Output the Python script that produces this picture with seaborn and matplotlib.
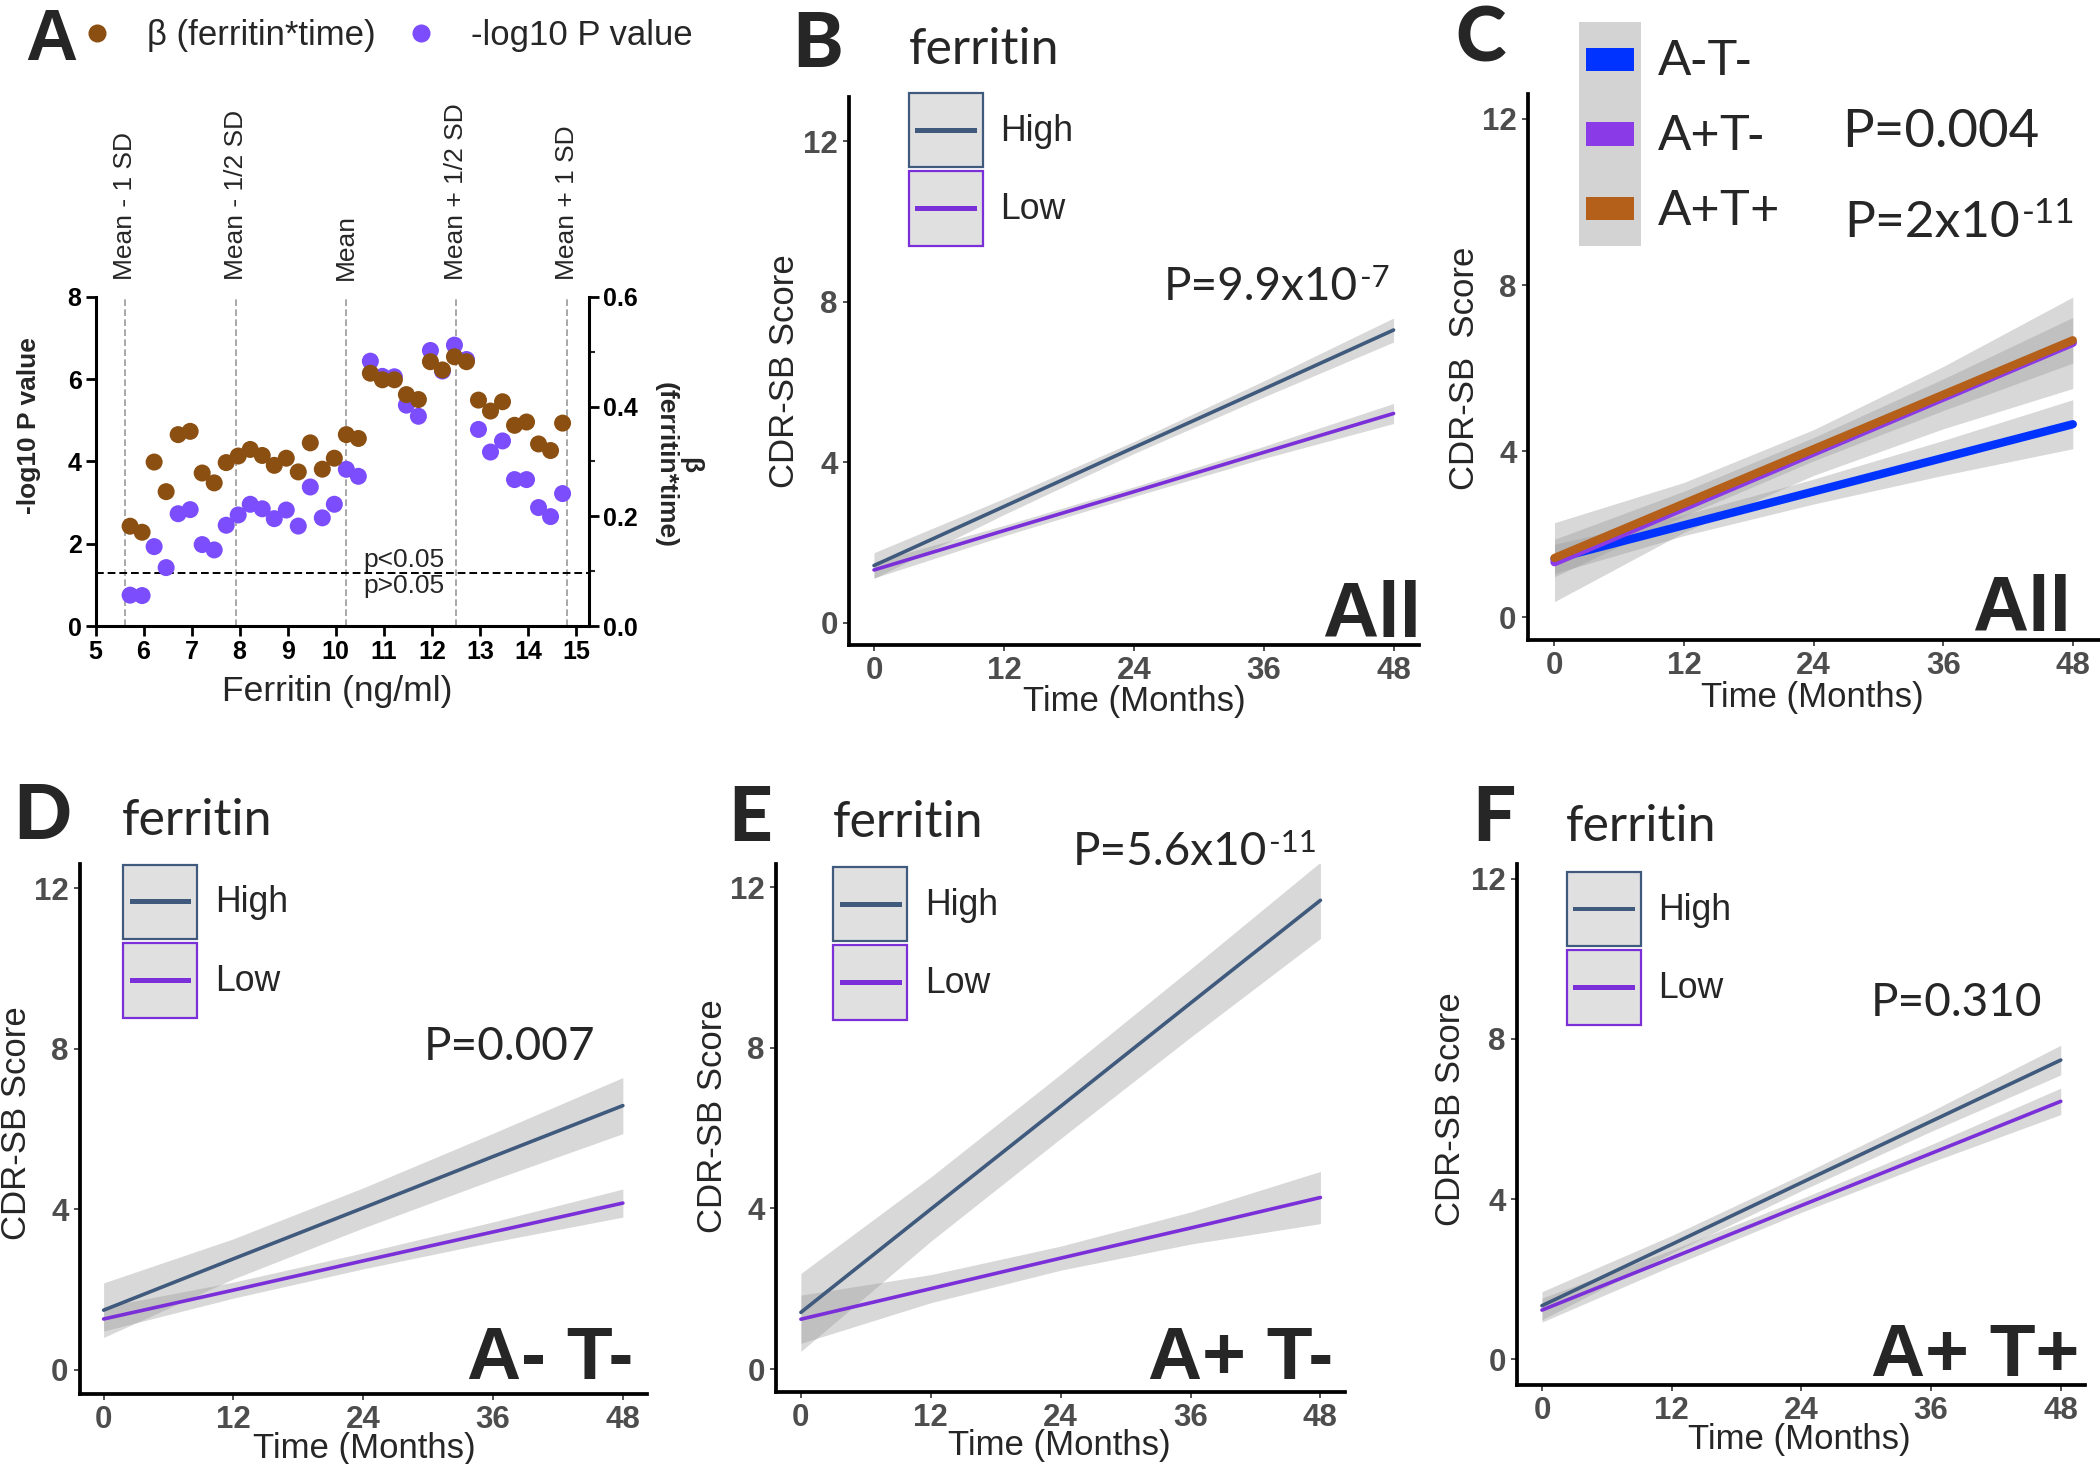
import numpy as np
import pandas as pd
import seaborn as sns
import matplotlib
matplotlib.use("Agg")
import matplotlib.pyplot as plt
from matplotlib.lines import Line2D
from matplotlib.patches import Patch, Rectangle
from matplotlib.legend_handler import HandlerPatch
from matplotlib.text import Annotation
from matplotlib.ticker import MultipleLocator, FormatStrFormatter

# ---- panel A: sliding ferritin cut-off ----
ferritin_cut = [5.72, 5.97, 6.22, 6.47, 6.72, 6.97, 7.22, 7.47, 7.72, 7.97,
                8.22, 8.47, 8.72, 8.97, 9.22, 9.47, 9.72, 9.97, 10.22, 10.47,
                10.72, 10.97, 11.22, 11.47, 11.72, 11.97, 12.22, 12.47, 12.72,
                12.97, 13.22, 13.47, 13.72, 13.97, 14.22, 14.47, 14.72]
beta_interaction = [0.182, 0.171, 0.299, 0.245, 0.349, 0.355, 0.279, 0.261, 0.298, 0.310,
                    0.322, 0.311, 0.293, 0.306, 0.281, 0.334, 0.286, 0.306, 0.349, 0.342,
                    0.461, 0.449, 0.449, 0.422, 0.413, 0.482, 0.467, 0.491, 0.482,
                    0.412, 0.392, 0.409, 0.366, 0.372, 0.332, 0.320, 0.370]
neg_log10_p = [0.75, 0.74, 1.93, 1.42, 2.73, 2.83, 1.98, 1.85, 2.45, 2.70,
               2.96, 2.85, 2.61, 2.82, 2.43, 3.38, 2.63, 2.96, 3.81, 3.64,
               6.44, 6.07, 6.06, 5.37, 5.10, 6.70, 6.20, 6.83, 6.48,
               4.78, 4.23, 4.50, 3.56, 3.56, 2.88, 2.66, 3.22]
sd_marks = [5.62, 7.92, 10.22, 12.51, 14.81]
sd_names = ["Mean - 1 SD", "Mean - 1/2 SD", "Mean", "Mean + 1/2 SD", "Mean + 1 SD"]
p_cutoff = 1.3

# ---- panels B-F: fitted CDR-SB lines (estimate, lower CI, upper CI) ----
months = [0, 12, 24, 36, 48]

b_high = [1.43, 2.90, 4.37, 5.83, 7.30]
b_high_lo = [1.11, 2.70, 4.22, 5.63, 7.00]
b_high_hi = [1.75, 3.10, 4.52, 6.03, 7.60]
b_low = [1.32, 2.30, 3.27, 4.25, 5.22]
b_low_lo = [1.12, 2.17, 3.15, 4.10, 4.97]
b_low_hi = [1.52, 2.43, 3.39, 4.40, 5.47]

c_aneg_tneg = [1.41, 2.22, 3.03, 3.84, 4.65]
c_aneg_tneg_lo = [1.06, 1.97, 2.73, 3.42, 4.06]
c_aneg_tneg_hi = [1.76, 2.47, 3.33, 4.26, 5.24]
c_apos_tneg = [1.33, 2.65, 3.97, 5.29, 6.61]
c_apos_tneg_lo = [0.38, 2.05, 3.42, 4.54, 5.51]
c_apos_tneg_hi = [2.28, 3.25, 4.52, 6.04, 7.71]
c_apos_tpos = [1.43, 2.74, 4.05, 5.36, 6.67]
c_apos_tpos_lo = [0.98, 2.44, 3.77, 4.98, 6.12]
c_apos_tpos_hi = [1.88, 3.04, 4.33, 5.74, 7.22]

d_high = [1.48, 2.76, 4.03, 5.31, 6.58]
d_high_lo = [0.80, 2.26, 3.53, 4.73, 5.88]
d_high_hi = [2.16, 3.26, 4.53, 5.89, 7.28]
d_low = [1.26, 1.98, 2.71, 3.43, 4.15]
d_low_lo = [0.96, 1.78, 2.51, 3.18, 3.80]
d_low_hi = [1.56, 2.18, 2.91, 3.68, 4.50]

e_high = [1.41, 3.98, 6.54, 9.11, 11.67]
e_high_lo = [0.44, 3.18, 5.74, 8.26, 10.72]
e_high_hi = [2.38, 4.78, 7.34, 9.96, 12.62]
e_low = [1.24, 2.00, 2.76, 3.51, 4.27]
e_low_lo = [0.64, 1.65, 2.46, 3.11, 3.62]
e_low_hi = [1.84, 2.35, 3.06, 3.91, 4.92]

f_high = [1.34, 2.87, 4.41, 5.94, 7.47]
f_high_lo = [0.99, 2.65, 4.21, 5.69, 7.10]
f_high_hi = [1.69, 3.09, 4.61, 6.19, 7.84]
f_low = [1.23, 2.53, 3.84, 5.14, 6.44]
f_low_lo = [0.93, 2.33, 3.67, 4.92, 6.11]
f_low_hi = [1.53, 2.73, 4.01, 5.36, 6.77]

# colours
BROWN = "#8b4f12"
VIOLET = "#7b4dfc"
HIGH_C = "#3f5a7c"
LOW_C = "#7a2fd8"
ferritin_pal = {"High": HIGH_C, "Low": LOW_C}
at_pal = {"A-T-": "#0033ff", "A+T-": "#8a3ae6", "A+T+": "#b45f1a"}
BAND = "#999999"

sns.set_style("ticks")
plt.rcParams["font.family"] = ["Liberation Sans", "DejaVu Sans"]

LATO = ["Lato", "DejaVu Sans"]
NARROW = ["Liberation Sans Narrow", "Liberation Sans", "DejaVu Sans"]

W, H = 2100, 1464
fig = plt.figure(figsize=(21, 14.64), dpi=100)


def box(left, right, top, bottom):
    return [left / W, 1 - bottom / H, (right - left) / W, (bottom - top) / H]


def at(x, y):
    return x / W, 1 - y / H


def bold_ticks(ax):
    for t in ax.get_xticklabels() + ax.get_yticklabels():
        t.set_fontweight("bold")


def key_line(legend, orig_handle, xdescent, ydescent, width, height, fontsize):
    lh = 0.065 * height
    return Rectangle((-xdescent + 0.09 * width, -ydescent + (height - lh) / 2), 0.83 * width, lh)


def key_bar(legend, orig_handle, xdescent, ydescent, width, height, fontsize):
    bh = 0.31 * height
    return Rectangle((-xdescent + 0.115 * width, -ydescent + (height - bh) / 2), 0.775 * width, bh)


def label(x, y, s, size, family=LATO, weight="normal", ha="left"):
    return fig.text(*at(x, y), s, fontsize=size, family=family, fontweight=weight,
                    ha=ha, va="baseline")


def p_label(x, y, main, sup, size):
    t = label(x, y, main, size)
    if sup:
        fig.add_artist(Annotation(sup, xy=(1, 0.5), xycoords=t, xytext=(1.5, 0),
                                  textcoords="offset points", fontsize=size * 0.68,
                                  family=LATO, ha="left", va="baseline"))


# ================= panel A =================
axA = fig.add_axes(box(95.5, 589, 297, 626))
for xm in sd_marks:
    axA.axvline(xm, color="#9a9a9a", lw=1.2, ls=(0, (4, 2)), zorder=1)
axA.axhline(p_cutoff, color="black", lw=1.4, ls=(0, (4, 2)), zorder=1)
sns.scatterplot(x=ferritin_cut, y=neg_log10_p, ax=axA, color=VIOLET, s=150,
                edgecolor="none", legend=False, zorder=3)
axA.set_xlim(5, 15.27)
axA.set_ylim(0, 8)
axA.set_xticks(range(5, 16))
axA.set_yticks([0, 2, 4, 6, 8])
axA.text(10.57, p_cutoff + 0.02, "p<0.05", fontsize=19, va="bottom", ha="left")
axA.text(10.57, p_cutoff - 0.04, "p>0.05", fontsize=19, va="top", ha="left")
for xm, name in zip(sd_marks, sd_names):
    axA.annotate(name, xy=(xm, 1), xycoords=("data", "axes fraction"),
                 xytext=(0, 17), textcoords="offset pixels", rotation=90,
                 ha="center", va="bottom", fontsize=19)

axA2 = axA.twinx()
sns.scatterplot(x=ferritin_cut, y=beta_interaction, ax=axA2, color=BROWN, s=150,
                edgecolor="none", legend=False, zorder=3)
axA2.set_ylim(0, 0.6)
axA2.set_yticks([0, 0.2, 0.4, 0.6])
axA2.yaxis.set_minor_locator(MultipleLocator(0.1))
axA2.yaxis.set_major_formatter(FormatStrFormatter("%.1f"))

axA.spines["top"].set_visible(False)
axA.spines["right"].set_visible(False)
for s in ["top", "left", "bottom"]:
    axA2.spines[s].set_visible(False)
for a in (axA, axA2):
    for s in a.spines.values():
        s.set_linewidth(2.2)
        s.set_color("black")
    a.tick_params(direction="out", length=7, width=2, labelsize=18, colors="black", pad=3)
axA2.tick_params(which="minor", length=4, width=1.5)
bold_ticks(axA)
bold_ticks(axA2)

axA.set_xlabel("Ferritin (ng/ml)", fontsize=25.5)
axA.set_ylabel("-log10 P value", fontsize=19, fontweight="bold")
axA2.set_ylabel("β\n(ferritin*time)", fontsize=19, fontweight="bold", rotation=270,
                linespacing=1.0)
axA.xaxis.set_label_coords(*at(337, 691), transform=fig.transFigure)
axA.yaxis.set_label_coords(*at(29.5, 426), transform=fig.transFigure)
axA2.yaxis.set_label_coords(*at(678, 465), transform=fig.transFigure)
for lab in (axA.xaxis.label, axA.yaxis.label, axA2.yaxis.label):
    lab.set_va("center")
    lab.set_ha("center")

dot_handles = [Line2D([], [], marker="o", ls="none", color=BROWN, markersize=13, markeredgewidth=0),
               Line2D([], [], marker="o", ls="none", color=VIOLET, markersize=13, markeredgewidth=0)]
fig.legend(dot_handles, ["β (ferritin*time)", "-log10 P value"], loc="center left",
           bbox_to_anchor=at(79.6, 36), ncol=2, frameon=False, fontsize=25,
           handlelength=1.0, handletextpad=0.94, columnspacing=0.82,
           borderpad=0, borderaxespad=0)


# ================= panels B-F =================
def cdr_panel(rect, xlim, ylim, groups, palette, lw, ylabel, ylab_xy, xlab_xy):
    ax = fig.add_axes(rect)
    for est, lo, hi in groups.values():
        ax.fill_between(months, lo, hi, color=BAND, alpha=0.38, lw=0, zorder=1)
    names = list(groups)
    df = pd.DataFrame({
        "month": months * len(names),
        "score": [v for n in names for v in groups[n][0]],
        "group": [n for n in names for _ in months],
    })
    sns.lineplot(data=df, x="month", y="score", hue="group", hue_order=names,
                 palette=palette, lw=lw, legend=False, errorbar=None, ax=ax, zorder=3)
    ax.set_xlim(*xlim)
    ax.set_ylim(*ylim)
    ax.set_xticks([0, 12, 24, 36, 48])
    ax.set_yticks([0, 4, 8, 12])
    ax.spines["top"].set_visible(False)
    ax.spines["right"].set_visible(False)
    for s in ("left", "bottom"):
        ax.spines[s].set_linewidth(2.7)
        ax.spines[s].set_color("black")
    ax.tick_params(direction="out", length=4, width=1.2, color="#333333",
                   labelsize=22.5, labelcolor="#4d4d4d", pad=4)
    bold_ticks(ax)
    ax.set_xlabel("Time (Months)", fontsize=25)
    ax.set_ylabel(ylabel, fontsize=25)
    ax.xaxis.set_label_coords(*at(*xlab_xy), transform=fig.transFigure)
    ax.yaxis.set_label_coords(*at(*ylab_xy), transform=fig.transFigure)
    for lab in (ax.xaxis.label, ax.yaxis.label):
        lab.set_va("center")
        lab.set_ha("center")
    return ax


def ferritin_legend(x, y):
    handles, hmap = [], {}
    for name in ["High", "Low"]:
        frame = Patch(facecolor="#e0e0e0", edgecolor=ferritin_pal[name], lw=1.6)
        stroke = Patch(facecolor=ferritin_pal[name], edgecolor="none")
        hmap[stroke] = HandlerPatch(patch_func=key_line)
        handles.append((frame, stroke))
    fig.legend(handles, ["High", "Low"], loc="upper left", bbox_to_anchor=at(x, y),
               frameon=False, fontsize=25.7, handlelength=2.087, handleheight=2.834,
               labelspacing=0.11, handletextpad=0.49, borderpad=0, borderaxespad=0,
               handler_map=hmap)


# B
cdr_panel(box(849, 1419, 96.5, 645), (-2.31, 50.35), (-0.55, 13.12),
          {"High": (b_high, b_high_lo, b_high_hi), "Low": (b_low, b_low_lo, b_low_hi)},
          ferritin_pal, 2.6, "CDR-SB Score", (784, 371), (1134, 701))
ferritin_legend(908.5, 93)
label(908.5, 64, "ferritin", 36)
p_label(1163.7, 300, "P=9.9x10", "-7", 33)
label(1421, 637, "All", 56, NARROW, "bold", "right")
label(792, 67, "B", 55, LATO, "black")

# C
cdr_panel(box(1527.5, 2098.7, 94.3, 640.3), (-2.5, 50.4), (-0.55, 12.59),
          {"A-T-": (c_aneg_tneg, c_aneg_tneg_lo, c_aneg_tneg_hi),
           "A+T-": (c_apos_tneg, c_apos_tneg_lo, c_apos_tneg_hi),
           "A+T+": (c_apos_tpos, c_apos_tpos_lo, c_apos_tpos_hi)},
          at_pal, 6, "CDR-SB  Score", (1465, 368), (1812.5, 697))
at_handles, at_map = [], {}
for name in at_pal:
    back = Patch(facecolor="#d3d3d3", edgecolor="none")
    bar = Patch(facecolor=at_pal[name], edgecolor="none")
    at_map[bar] = HandlerPatch(patch_func=key_bar)
    at_handles.append((back, bar))
fig.legend(at_handles, list(at_pal), loc="upper left", bbox_to_anchor=at(1579, 22),
           frameon=False, fontsize=36, handlelength=1.24, handleheight=1.92,
           labelspacing=0, handletextpad=0.34, borderpad=0, borderaxespad=0,
           handler_map=at_map)
p_label(1842, 147, "P=0.004", None, 38)
p_label(1844, 237, "P=2x10", "-11", 37)
label(2071, 631, "All", 56, NARROW, "bold", "right")
label(1455, 62, "C", 55, LATO, "black")

# D
cdr_panel(box(79.5, 647.3, 863.75, 1394), (-2.23, 50.26), (-0.61, 12.61),
          {"High": (d_high, d_high_lo, d_high_hi), "Low": (d_low, d_low_lo, d_low_hi)},
          ferritin_pal, 2.6, "CDR-SB Score", (17, 1122.7), (364, 1448.6))
ferritin_legend(122.8, 864.6)
label(121.4, 834.7, "ferritin", 36)
p_label(424, 1060, "P=0.007", None, 33)
label(633, 1379, "A- T-", 54, NARROW, "bold", "right")
label(13, 839, "D", 55, LATO, "black")

# E
cdr_panel(box(775.9, 1345, 863.75, 1391.9), (-2.31, 50.27), (-0.57, 12.58),
          {"High": (e_high, e_high_lo, e_high_hi), "Low": (e_low, e_low_lo, e_low_hi)},
          ferritin_pal, 2.6, "CDR-SB Score", (712, 1116), (1059, 1446))
ferritin_legend(833, 866.9)
label(833, 837, "ferritin", 36)
p_label(1072.8, 864.6, "P=5.6x10", "-11", 33)
label(1333, 1379, "A+ T-", 54, NARROW, "bold", "right")
label(728, 841, "E", 55, LATO, "black")

# F
cdr_panel(box(1517, 2085.3, 863.75, 1385), (-2.31, 50.27), (-0.64, 12.37),
          {"High": (f_high, f_high_lo, f_high_hi), "Low": (f_low, f_low_lo, f_low_hi)},
          ferritin_pal, 2.6, "CDR-SB Score", (1451, 1109), (1799.6, 1439.6))
ferritin_legend(1566.5, 871.8)
label(1566, 841.4, "ferritin", 36)
p_label(1871, 1016.4, "P=0.310", None, 33)
label(2079.5, 1376, "A+ T+", 54, NARROW, "bold", "right")
label(1472, 841, "F", 55, LATO, "black")

label(25, 60, "A", 52, ["Liberation Sans", "DejaVu Sans"], "bold")

fig.savefig("out.png", dpi=100)
